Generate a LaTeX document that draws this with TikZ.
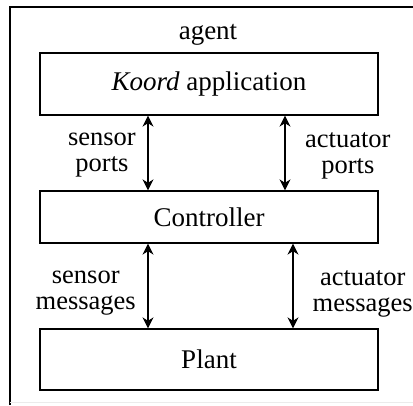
\documentclass[tikz,border=0pt]{standalone}
\usepackage{fontspec}
\setmainfont{Liberation Serif}
\usetikzlibrary{arrows.meta}
\tikzset{
  frame/.style={line width=1.3pt},
  box/.style={draw, line width=1.3pt, minimum width=338, inner sep=0pt,
    font=\fontsize{27}{26}\selectfont},
  lbl/.style={align=center, inner sep=0pt, font=\fontsize{26.5}{26}\selectfont},
  biarrow/.style={line width=1.3pt,
    {Stealth[length=11pt,width=11pt,inset=3.5pt]}-{Stealth[length=11pt,width=11pt,inset=3.5pt]}}
}
\begin{document}
\begin{tikzpicture}[x=1pt,y=-1pt]
  \useasboundingbox[fill=white] (0,0) rectangle (413,405);
  % enclosing agent frame
  \draw[frame] (10,405) -- (10,7) -- (413,7);
  \draw[black!8, line width=0.8pt] (10,402) -- (413,402);
  \node[lbl, anchor=base, font=\fontsize{27}{26}\selectfont] (agent) at (208,39) {agent};

  % layers
  \node[box, minimum height=62] (app) at (209,84) {\textit{Koord} application};
  \node[box, minimum height=52] (ctl) at (209,217) {Controller};
  \node[box, minimum height=61] (plant) at (209,359.5) {Plant};

  % connector columns
  \coordinate (sx) at (148,0);
  \coordinate (ax) at (285,0);
  \coordinate (mx) at (293,0);

  \draw[biarrow] (app.south -| sx) -- (ctl.north -| sx);
  \draw[biarrow] (app.south -| ax) -- (ctl.north -| ax);
  \draw[biarrow] (ctl.south -| sx) -- (plant.north -| sx);
  \draw[biarrow] (ctl.south -| mx) -- (plant.north -| mx);

  \node[lbl, anchor=east] (sport) at (136,155.5) {sensor\\ports};
  \node[lbl, anchor=west] (aport) at (305,155.5) {actuator\\ports};
  \node[lbl, anchor=east] (smsg) at (136,293.5) {sensor\\messages};
  \node[lbl, anchor=west] (amsg) at (312.5,293.5) {actuator\\messages};
\end{tikzpicture}
\end{document}
